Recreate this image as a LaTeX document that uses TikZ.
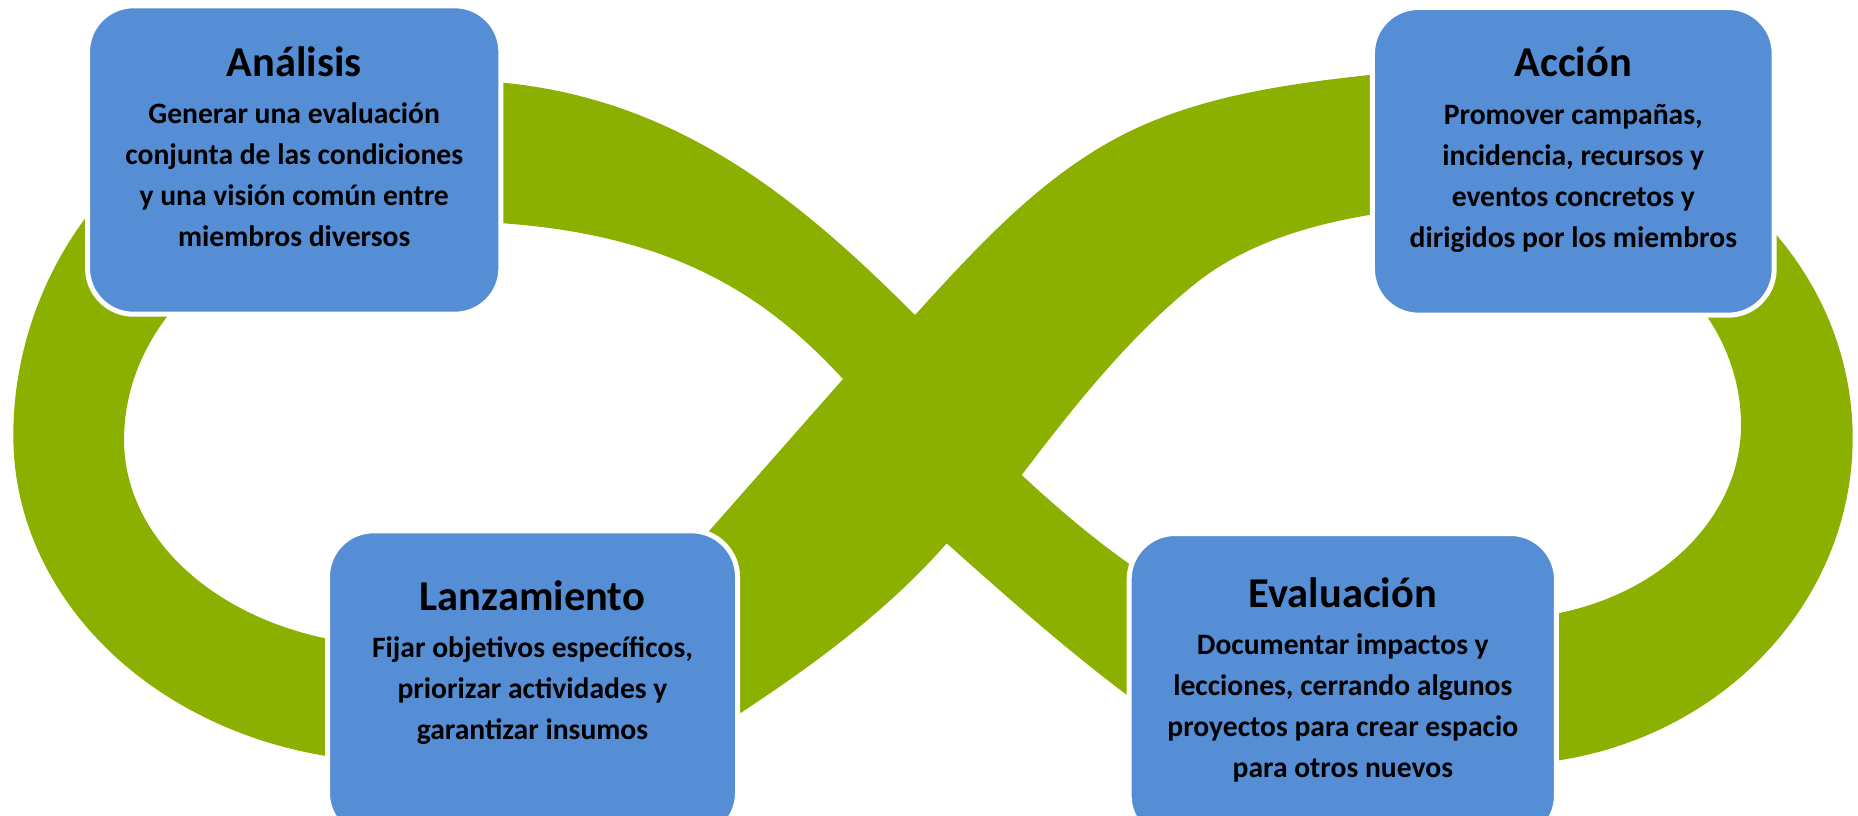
\documentclass[tikz,border=0pt]{standalone}
\usepackage{fontspec}
\setmainfont{Carlito}
\definecolor{ringgreen}{RGB}{139,176,0}
\definecolor{boxblue}{RGB}{85,142,213}
\begin{document}
\begin{tikzpicture}[x=1pt,y=-1pt,
  stagebox/.style={draw=white, line width=5pt, fill=boxblue, rounded corners=46pt, inner sep=0pt, outer sep=0pt},
  ttl/.style={anchor=base, inner sep=0pt, font=\fontsize{42.5}{50}\selectfont\bfseries},
  bod/.style={anchor=base, inner sep=0pt, font=\fontsize{29.6}{41}\selectfont\bfseries},
  arcplot/.style={samples=60, variable=\t}]
\useasboundingbox (0,0) rectangle (1858,815);
\clip (0,0) rectangle (1858,815);
% green infinity band (outer outline, then the two holes)
\fill[ringgreen, even odd rule]
 (95.3,205) -- (495,82.7) -- (503.3,82.7)
   .. controls (680,100) and (800,200) .. (915,315)
   .. controls (978.3,245.4) and (1044.5,172.9) .. (1129,131.7)
   .. controls (1202.7,95.8) and (1287.5,83.9) .. (1369,75)
   -- (1380,74.5) -- (1762.1,219.2)
   -- plot[arcplot, domain=-42:82] ({1500+352.7*cos(\t)},{438+327*sin(\t)})
   -- (1140,699) -- (1127,695)
   .. controls (1064.2,647.9) and (1005.3,595.5) .. (946.7,543.3)
   .. controls (888,610.2) and (814.4,664.5) .. (740,713.3)
   -- (730,718) -- (332.8,757)
   -- plot[arcplot, domain=100:180] ({400+386.7*cos(\t)},{436+326*sin(\t)})
   -- plot[arcplot, domain=180:218] ({400+386.7*cos(\t)},{436+375*sin(\t)})
   -- cycle
 (176.7,304.8) -- (495,223.3) -- (503.3,223.3)
   .. controls (680,236) and (770,300) .. (843,379)
   -- (710,530) -- (690,555) -- (338,640.7)
   -- plot[arcplot, domain=103:180] ({400+276*cos(\t)},{440+206*sin(\t)})
   -- plot[arcplot, domain=180:216] ({400+276*cos(\t)},{440+230*sin(\t)})
   -- cycle
 (1698.6,304.9)
   -- plot[arcplot, domain=-34.5:0] ({1500+241*cos(\t)},{425+212*sin(\t)})
   -- plot[arcplot, domain=0:78.5] ({1500+241*cos(\t)},{425+194*sin(\t)})
   -- (1145,576) -- (1128,563)
   .. controls (1090,536) and (1055,506) .. (1021.7,475)
   .. controls (1073.8,406.6) and (1128.5,337.1) .. (1195.7,283.3)
   .. controls (1244.1,244.5) and (1307.9,225.3) .. (1369,215)
   -- (1380,214) -- cycle;
% boxes
\node[stagebox, minimum width=413.3pt, minimum height=308.4pt] (analisis) at (294.2,160) {};
\node[stagebox, minimum width=401.7pt, minimum height=307.7pt] (accion) at (1573.3,161.3) {};
\node[stagebox, minimum width=410pt, minimum height=308pt] (lanzamiento) at (532.5,684.8) {};
\node[stagebox, minimum width=427.3pt, minimum height=308pt] (evaluacion) at (1342.8,687.5) {};
% texts
\node[ttl] (analisis-t) at (294.2,76) {Análisis};
\node[bod] (analisis-b) at (294.2,123.3) {\begin{tabular}[t]{@{}c@{}}Generar una evaluación\\conjunta de las condiciones\\y una visión común entre\\miembros diversos\end{tabular}};
\node[ttl] (accion-t) at (1573.3,76.7) {Acción};
\node[bod] (accion-b) at (1573.3,124) {\begin{tabular}[t]{@{}c@{}}Promover campañas,\\incidencia, recursos y\\eventos concretos y\\dirigidos por los miembros\end{tabular}};
\node[ttl] (lanzamiento-t) at (532.5,610.7) {Lanzamiento};
\node[bod] (lanzamiento-b) at (532.5,657.7) {\begin{tabular}[t]{@{}c@{}}Fijar objetivos específicos,\\priorizar actividades y\\garantizar insumos\end{tabular}};
\node[ttl] (evaluacion-t) at (1342.8,607.3) {Evaluación};
\node[bod] (evaluacion-b) at (1342.8,654) {\begin{tabular}[t]{@{}c@{}}Documentar impactos y\\lecciones, cerrando algunos\\proyectos para crear espacio\\para otros nuevos\end{tabular}};
\end{tikzpicture}
\end{document}
